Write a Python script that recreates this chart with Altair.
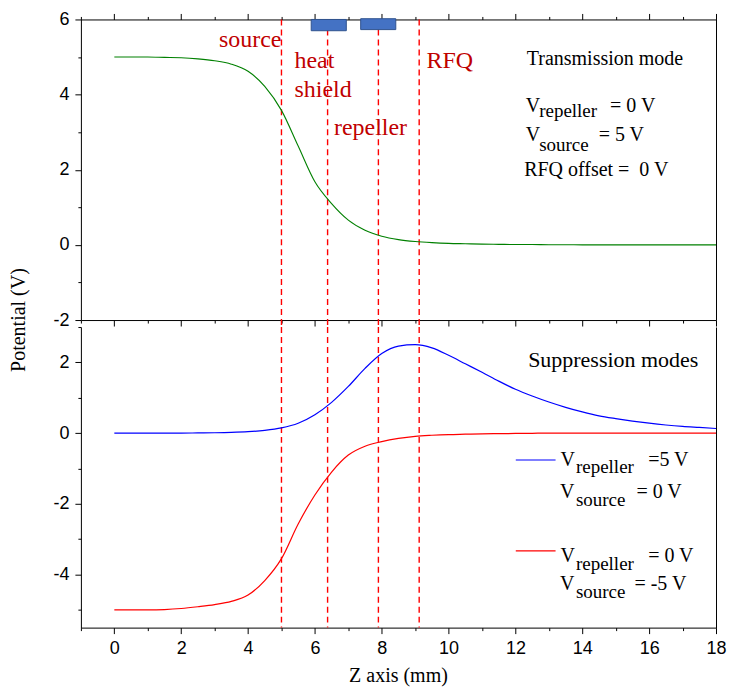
import altair as alt
import pandas as pd

# ---------------- data ----------------
z_mm = [0, 0.5, 1, 1.5, 2, 2.5, 3, 3.5, 4, 4.5, 5, 5.5, 6, 6.5, 7, 7.5, 8, 8.5, 9, 9.5,
        10, 10.5, 11, 11.5, 12, 12.5, 13, 13.5, 14, 14.5, 15, 15.5, 16, 16.5, 17, 17.5, 18]
v_transmission = [5.0, 5.0, 5.0, 4.99, 4.98, 4.95, 4.90, 4.81, 4.62, 4.22,
                  3.58, 2.63, 1.68, 1.10, 0.66, 0.39, 0.23, 0.14, 0.09, 0.06,
                  0.04, 0.03, 0.02, 0.015, 0.01, 0.01, 0.005, 0.005, 0, 0,
                  0, 0, 0, 0, 0, 0, 0]
v_repeller_5v = [0, 0, 0, 0, 0, 0.005, 0.01, 0.02, 0.04, 0.08,
                 0.15, 0.28, 0.52, 0.87, 1.32, 1.83, 2.25, 2.46, 2.50, 2.41,
                 2.20, 1.96, 1.72, 1.47, 1.24, 1.05, 0.88, 0.73, 0.60, 0.49,
                 0.41, 0.34, 0.28, 0.23, 0.19, 0.16, 0.13]
v_source_m5v = [-5.0, -5.0, -5.0, -4.99, -4.96, -4.91, -4.85, -4.76, -4.58, -4.17,
                -3.55, -2.57, -1.75, -1.10, -0.62, -0.37, -0.24, -0.15, -0.09, -0.06,
                -0.04, -0.03, -0.02, -0.015, -0.01, -0.005, 0, 0, 0, 0,
                0, 0, 0, 0, 0, 0, 0]

electrode_z = [5.0, 6.38, 7.9, 9.12]

region_labels = ["source", "heat", "shield", "repeller", "RFQ"]
region_label_z = [3.13, 5.39, 5.39, 6.57, 9.34]
region_label_v = [5.28, 4.72, 3.93, 2.93, 4.72]

block_z1 = [5.89, 7.37]
block_z2 = [6.94, 8.42]
block_v1 = [5.70, 5.73]
block_v2 = [6.0, 6.02]

top_notes = ["Transmission mode", "V", "repeller", "= 0 V", "V", "source", "= 5 V",
             "RFQ offset = \u00a00 V"]
top_notes_z = [12.34, 12.31, 12.71, 14.83, 12.31, 12.71, 14.49, 12.26]
top_notes_v = [4.78, 3.55, 3.40, 3.55, 2.76, 2.49, 2.76, 1.84]
top_notes_fs = [20, 20, 19, 20, 20, 19, 20, 20]

bot_notes = ["Suppression modes",
             "V", "repeller", "=5 V",
             "V", "source", "= 0 V",
             "V", "repeller", "= 0 V",
             "V", "source", "= -5 V"]
bot_notes_z = [12.38, 13.35, 13.81, 15.97, 13.33, 13.81, 15.62,
               13.35, 13.81, 15.97, 13.33, 13.81, 15.56]
bot_notes_v = [1.86, -0.92, -1.13, -0.92, -1.84, -2.06, -1.84,
               -3.65, -3.86, -3.65, -4.44, -4.66, -4.44]
bot_notes_fs = [22, 20, 19, 20, 20, 19, 20, 20, 19, 20, 20, 19, 20]

legend_series = ["repeller", "source"]
legend_z1 = [12.01, 12.01]
legend_z2 = [13.2, 13.2]
legend_v = [-0.76, -3.33]

x_title = ["Z axis (mm)"]
x_title_z = [8.5]
x_title_v = [-7.03]
y_title = ["Potential (V)"]
y_title_z = [-2.68]
y_title_v = [-2.0]

x_ticks = list(range(-1, 19))
y_ticks_top = list(range(-2, 7))
y_ticks_bot = list(range(-5, 4))

# ---------------- frames ----------------
df_top = pd.DataFrame({"z": z_mm, "v": v_transmission})
df_bot = pd.concat([
    pd.DataFrame({"z": z_mm, "v": v_repeller_5v, "s": "repeller"}),
    pd.DataFrame({"z": z_mm, "v": v_source_m5v, "s": "source"}),
])
df_rules_top = pd.DataFrame({"z": electrode_z, "v1": [6.0] * 4, "v2": [-2.19] * 4})
df_rules_bot = pd.DataFrame({"z": electrode_z, "v1": [3.0] * 4, "v2": [-5.5] * 4})
df_labels = pd.DataFrame({"t": region_labels, "z": region_label_z, "v": region_label_v})
df_blocks = pd.DataFrame({"z1": block_z1, "z2": block_z2, "v1": block_v1, "v2": block_v2})
df_top_notes = pd.DataFrame({"t": top_notes, "z": top_notes_z, "v": top_notes_v, "fs": top_notes_fs})
df_bot_notes = pd.DataFrame({"t": bot_notes, "z": bot_notes_z, "v": bot_notes_v, "fs": bot_notes_fs})
df_legend = pd.DataFrame({"s": legend_series, "z1": legend_z1, "z2": legend_z2, "v": legend_v})
df_xtitle = pd.DataFrame({"t": x_title, "z": x_title_z, "v": x_title_v})
df_ytitle = pd.DataFrame({"t": y_title, "z": y_title_z, "v": y_title_v})

# ---------------- scales / axes ----------------
xs = alt.Scale(domain=[-1, 18], nice=False, zero=False)
ys_top = alt.Scale(domain=[-2, 6], nice=False, zero=False)
ys_bot = alt.Scale(domain=[-5.5, 3], nice=False, zero=False)
col_scale = alt.Scale(domain=["repeller", "source"], range=["#0000FF", "#FF0000"])

tick_cond = {"condition": {"test": "datum.value % 2 == 0", "value": 6}, "value": 3}
lab_expr = "datum.value % 2 == 0 ? '' + datum.value : ''"

SERIF = "Liberation Serif"
SANS = "Liberation Sans"

W, H = 636, 301

ax_top_bottom = alt.Axis(orient="bottom", values=x_ticks, labels=False, domain=False,
                         tickSize=tick_cond, grid=False, title=None)
ax_top_top = alt.Axis(orient="top", values=x_ticks, labels=False, domain=False,
                      tickSize=tick_cond, grid=False, title=None)
ax_top_left = alt.Axis(orient="left", values=y_ticks_top, labelExpr=lab_expr,
                       labelFont=SANS, labelFontSize=18, labelPadding=6, labelFlush=False,
                       tickSize=tick_cond, domain=False, grid=False, title=None)
ax_bot_bottom = alt.Axis(orient="bottom", values=x_ticks, labelExpr=lab_expr,
                         labelFont=SANS, labelFontSize=18, labelPadding=6, labelFlush=False,
                         tickSize=tick_cond, domain=True, grid=False, title=None)
ax_bot_left = alt.Axis(orient="left", values=y_ticks_bot, labelExpr=lab_expr,
                       labelFont=SANS, labelFontSize=18, labelPadding=6, labelFlush=False,
                       tickSize=tick_cond, domain=True, grid=False, title=None)
ax_bot_right = alt.Axis(orient="right", labels=False, ticks=False, domain=True,
                        grid=False, title=None)

# ---------------- top panel ----------------
rules_top = alt.Chart(df_rules_top).mark_rule(color="#FF0000", strokeDash=[6, 4], strokeWidth=1.4).encode(
    x=alt.X("z:Q", scale=xs, axis=None),
    y=alt.Y("v1:Q", scale=ys_top, axis=None),
    y2="v2:Q",
)
curve_top = alt.Chart(df_top).mark_line(color="#008000", strokeWidth=1.1, interpolate="monotone").encode(
    x=alt.X("z:Q", scale=xs, axis=ax_top_bottom),
    y=alt.Y("v:Q", scale=ys_top, axis=ax_top_left),
)
blocks = alt.Chart(df_blocks).mark_rect(fill="#4472C4", stroke="#2F528F", strokeWidth=1).encode(
    x=alt.X("z1:Q", scale=xs, axis=ax_top_top),
    x2="z2:Q",
    y=alt.Y("v1:Q", scale=ys_top, axis=None),
    y2="v2:Q",
)
labels_top = alt.Chart(df_labels).mark_text(align="left", baseline="alphabetic", font=SERIF,
                                            fontSize=24, color="#C00000").encode(
    x=alt.X("z:Q", scale=xs, axis=None),
    y=alt.Y("v:Q", scale=ys_top, axis=None),
    text="t:N",
)
notes_top = alt.Chart(df_top_notes).mark_text(align="left", baseline="alphabetic", font=SERIF,
                                              color="black").encode(
    x=alt.X("z:Q", scale=xs, axis=None),
    y=alt.Y("v:Q", scale=ys_top, axis=None),
    text="t:N",
    size=alt.Size("fs:Q", scale=None, legend=None),
)
ytitle = alt.Chart(df_ytitle).mark_text(angle=270, align="center", baseline="alphabetic",
                                        font=SERIF, fontSize=20, color="black").encode(
    x=alt.X("z:Q", scale=xs, axis=None),
    y=alt.Y("v:Q", scale=ys_top, axis=None),
    text="t:N",
)
top = alt.layer(rules_top, curve_top, blocks, labels_top, notes_top, ytitle).resolve_axis(
    x="independent", y="independent"
).properties(width=W, height=H, view=alt.ViewBackground(stroke="black", strokeWidth=1))

# ---------------- bottom panel ----------------
rules_bot = alt.Chart(df_rules_bot).mark_rule(color="#FF0000", strokeDash=[6, 4], strokeWidth=1.4).encode(
    x=alt.X("z:Q", scale=xs, axis=None),
    y=alt.Y("v1:Q", scale=ys_bot, axis=None),
    y2="v2:Q",
)
curves_bot = alt.Chart(df_bot).mark_line(strokeWidth=1.2, interpolate="monotone").encode(
    x=alt.X("z:Q", scale=xs, axis=ax_bot_bottom),
    y=alt.Y("v:Q", scale=ys_bot, axis=ax_bot_left),
    color=alt.Color("s:N", scale=col_scale, legend=None),
)
legend_lines = alt.Chart(df_legend).mark_rule(strokeWidth=1.2).encode(
    x=alt.X("z1:Q", scale=xs, axis=None),
    x2="z2:Q",
    y=alt.Y("v:Q", scale=ys_bot, axis=ax_bot_right),
    color=alt.Color("s:N", scale=col_scale, legend=None),
)
notes_bot = alt.Chart(df_bot_notes).mark_text(align="left", baseline="alphabetic", font=SERIF,
                                              color="black").encode(
    x=alt.X("z:Q", scale=xs, axis=None),
    y=alt.Y("v:Q", scale=ys_bot, axis=None),
    text="t:N",
    size=alt.Size("fs:Q", scale=None, legend=None),
)
xtitle = alt.Chart(df_xtitle).mark_text(align="center", baseline="alphabetic",
                                        font=SERIF, fontSize=20, color="black").encode(
    x=alt.X("z:Q", scale=xs, axis=None),
    y=alt.Y("v:Q", scale=ys_bot, axis=None),
    text="t:N",
)
bottom = alt.layer(rules_bot, curves_bot, legend_lines, notes_bot, xtitle).resolve_axis(
    x="independent", y="independent"
).properties(width=W, height=H)

chart = alt.vconcat(top, bottom, spacing=7, bounds="flush").properties(
    padding={"left": 0, "top": 1, "right": 0, "bottom": 0}
).configure_view(stroke="transparent").configure_axis(
    domainColor="black", tickColor="black", labelColor="black",
    domainWidth=1, tickWidth=1
)

chart.save("out.html", embed_options={"renderer": "svg", "actions": False})
